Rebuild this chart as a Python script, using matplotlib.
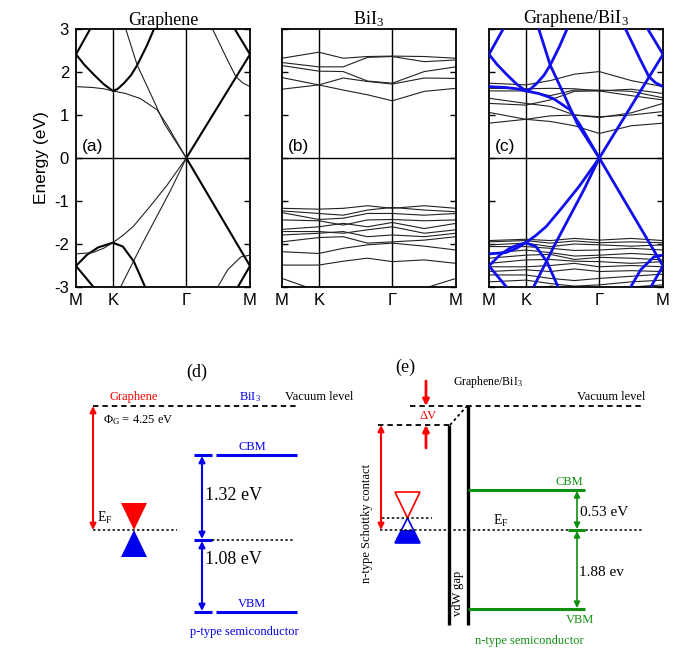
import matplotlib
matplotlib.use('Agg')
import matplotlib.pyplot as plt
from matplotlib.patches import Polygon

plt.rcParams['mathtext.fontset'] = 'custom'
plt.rcParams['mathtext.rm'] = 'Liberation Serif'
plt.rcParams['mathtext.it'] = 'Liberation Serif:italic'
plt.rcParams['mathtext.bf'] = 'Liberation Serif:bold'
plt.rcParams['axes.unicode_minus'] = False

SANS = 'Liberation Sans'
SERIF = 'Liberation Serif'

# k path M-K-Γ-M (hexagonal BZ lengths)
k_ticks = [0.0, 0.667, 2.0, 3.155]
k_labels = ['M', 'K', 'Γ', 'M']
k_grid = [0.0, 0.667, 1.11, 1.55, 2.0, 2.58, 3.155]
e_ticks = [-3, -2, -1, 0, 1, 2, 3]

titles = ['Graphene', r'BiI$_3$', r'Graphene/BiI$_3$']
panel_tags = ['(a)', '(b)', '(c)']

# graphene bands: (k, E) pairs
graphene_thick = [
    ([0.0, 0.15, 0.33, 0.5, 0.667, 0.75, 0.87, 1.0, 1.11, 1.28, 1.445, 1.5],
     [2.41, 2.17, 1.93, 1.72, 1.56, 1.6, 1.74, 1.93, 2.16, 2.6, 3.09, 3.25]),
    ([0.0, 0.296, 0.35], [2.41, 3.09, 3.2]),
    ([2.0, 3.155], [0.0, 2.41]),
    ([2.80, 2.836, 3.155], [3.15, 3.09, 2.41]),
    ([0.0, 0.2, 0.4, 0.667, 0.85, 1.05, 1.26, 1.3],
     [-2.51, -2.25, -2.08, -1.97, -2.06, -2.41, -3.02, -3.1]),
    ([0.0, 0.33, 0.38], [-2.51, -3.02, -3.1]),
    ([2.0, 3.155], [0.0, -2.51]),
    ([2.88, 2.925, 3.155], [-3.1, -3.02, -2.51]),
]
graphene_thin = [
    ([0.0, 0.3, 0.5, 0.667, 0.9, 1.17, 1.47, 1.65, 2.0],
     [1.66, 1.64, 1.61, 1.56, 1.5, 1.38, 1.12, 0.77, 0.0]),
    ([0.85, 0.88, 1.11, 1.35, 1.6, 2.0], [3.2, 3.09, 2.16, 1.5, 0.8, 0.0]),
    ([2.40, 2.44, 2.6, 2.75, 2.9, 3.02, 3.155],
     [3.2, 3.09, 2.67, 2.27, 1.89, 1.75, 1.66]),
    ([0.0, 0.3, 0.5, 0.667, 0.85, 1.04, 1.34, 1.64, 2.0],
     [-2.23, -2.2, -2.1, -1.97, -1.8, -1.59, -1.13, -0.65, 0.0]),
    ([0.76, 0.8, 1.2, 1.72, 2.0], [-3.1, -3.02, -2.0, -0.74, 0.0]),
    ([2.53, 2.56, 2.75, 2.99, 3.155], [-3.1, -3.02, -2.6, -2.3, -2.26]),
]

# BiI3 bands, panel (b), energies at k_grid
bii3_cond = [
    [2.32, 2.46, 2.32, 2.36, 2.37, 2.36, 2.32],
    [2.22, 2.12, 2.12, 2.34, 2.36, 2.24, 2.28],
    [2.15, 2.02, 2.01, 1.79, 1.74, 2.01, 2.12],
    [1.87, 1.70, 1.86, 1.78, 1.72, 1.86, 1.85],
    [1.60, 1.70, 1.58, 1.47, 1.33, 1.55, 1.62],
]
bii3_val = [
    [-1.17, -1.19, -1.17, -1.11, -1.17, -1.11, -1.17],
    [-1.23, -1.29, -1.33, -1.21, -1.15, -1.21, -1.25],
    [-1.27, -1.43, -1.40, -1.29, -1.29, -1.33, -1.29],
    [-1.44, -1.46, -1.56, -1.44, -1.43, -1.46, -1.44],
    [-1.66, -1.60, -1.52, -1.60, -1.50, -1.64, -1.52],
    [-1.71, -1.71, -1.75, -1.67, -1.60, -1.75, -1.67],
    [-1.79, -1.75, -1.71, -1.83, -1.79, -1.83, -1.75],
    [-1.95, -1.85, -1.83, -1.98, -1.95, -1.91, -1.83],
    [-2.18, -2.22, -2.10, -2.02, -1.98, -2.05, -2.14],
    [-2.49, -2.49, -2.40, -2.33, -2.41, -2.37, -2.45],
    [-2.80, -3.10, -3.50, -3.60, -3.60, -3.03, -2.80],
]

# heterostructure BiI3-derived bands, panel (c)
het_cond = [
    [1.06, 0.90, 0.85, 0.75, 0.57, 0.75, 0.81],
    [0.81, 0.90, 0.98, 1.00, 0.96, 1.00, 1.08],
    [1.39, 1.27, 1.20, 1.00, 0.94, 1.05, 1.27],
    [1.27, 1.23, 1.35, 1.55, 1.56, 1.45, 1.35],
    [1.56, 1.56, 1.45, 1.58, 1.58, 1.55, 1.40],
    [1.62, 1.61, 1.62, 1.61, 1.56, 1.60, 1.50],
    [1.74, 1.70, 1.80, 1.95, 2.01, 1.80, 1.66],
]
het_val = [
    [-1.92, -1.89, -1.92, -1.87, -1.91, -1.87, -1.92],
    [-1.95, -1.92, -1.98, -1.93, -1.97, -1.95, -1.97],
    [-2.02, -1.98, -2.06, -2.00, -2.02, -2.05, -2.02],
    [-2.06, -2.06, -2.10, -2.15, -2.14, -2.10, -2.14],
    [-2.22, -2.14, -2.20, -2.28, -2.26, -2.22, -2.26],
    [-2.33, -2.26, -2.24, -2.36, -2.31, -2.33, -2.37],
    [-2.45, -2.37, -2.36, -2.40, -2.41, -2.45, -2.41],
    [-2.53, -2.53, -2.50, -2.45, -2.53, -2.50, -2.53],
    [-2.64, -2.60, -2.64, -2.58, -2.64, -2.62, -2.64],
    [-2.72, -2.72, -2.80, -2.85, -2.80, -2.75, -2.70],
    [-2.88, -2.84, -2.92, -2.98, -2.95, -2.88, -2.84],
    [-3.00, -3.10, -2.98, -3.02, -3.05, -3.00, -2.95],
]

W, H = 680, 648
fig = plt.figure(figsize=(W / 100, H / 100), dpi=100)

panel_x = [76, 282, 489]
axes = []
for i, x0 in enumerate(panel_x):
    ax = fig.add_axes([x0 / W, 1 - 287 / H, 174 / W, 258 / H])
    ax.set_xlim(0, 3.155)
    ax.set_ylim(-3, 3)
    ax.set_yticks(e_ticks)
    ax.set_xticks(k_ticks)
    ax.set_xticklabels(k_labels, fontfamily=SANS, fontsize=12)
    ax.tick_params(axis='y', direction='in', length=4, width=1, left=True, right=True,
                   labelleft=(i == 0), labelsize=12, pad=5)
    ax.tick_params(axis='x', length=0, pad=4)
    for lab in ax.get_yticklabels():
        lab.set_fontfamily(SANS)
    for s in ax.spines.values():
        s.set_linewidth(1.3)
    for kk in k_ticks[1:3]:
        ax.axvline(kk, color='black', lw=1.0, zorder=1)
    ax.axhline(0, color='black', lw=1.0, zorder=1)
    ax.set_title(titles[i], fontfamily=SERIF, fontsize=13, pad=3)
    ax.text(0.1, 0.27, panel_tags[i], fontfamily=SANS, fontsize=12.5, va='center')
    axes.append(ax)

axes[0].set_ylabel('Energy (eV)', fontfamily=SANS, fontsize=12.5, labelpad=4)

# (a) graphene
for k, e in graphene_thick:
    axes[0].plot(k, e, color='black', lw=1.5)
for k, e in graphene_thin:
    axes[0].plot(k, e, color='#222222', lw=0.8)

# (b) BiI3
for e in bii3_cond + bii3_val:
    axes[1].plot(k_grid, e, color='#222222', lw=0.8)

# (c) heterostructure
for e in het_cond + het_val:
    axes[2].plot(k_grid, e, color='#222222', lw=0.8)
for k, e in graphene_thick + graphene_thin:
    axes[2].plot(k, e, color='#1010ee', lw=2.0, zorder=3)

# ---- band alignment sketches (d) and (e), drawn in canvas pixels ----
ov = fig.add_axes([0, 0, 1, 1])
ov.set_xlim(0, W)
ov.set_ylim(H, 0)
ov.axis('off')

red = '#ff0000'
blue = '#0000ee'
green = '#109010'
dash = (0, (3, 2.2))
dot = (0, (1.6, 1.6))


def arrow(x, y0, y1, color, both=True, lw=1.5):
    style = '<|-|>' if both else '-|>'
    ov.annotate('', xy=(x, y1), xytext=(x, y0),
                arrowprops=dict(arrowstyle=style, color=color, lw=lw,
                                mutation_scale=9, shrinkA=0, shrinkB=0))


def txt(x, y, s, color='black', size=9, ha='left', **kw):
    ov.text(x, y, s, color=color, fontsize=size, ha=ha, va='center',
            fontfamily=SERIF, **kw)


# (d) isolated graphene and BiI3
txt(197, 372, '(d)', size=13, ha='center')
txt(134, 397, 'Graphene', red, ha='center')
txt(250, 397, r'BiI$_3$', blue, ha='center')
txt(285, 397, 'Vacuum level')
ov.plot([93, 298], [406, 406], color='black', lw=1.3, ls=dash)
arrow(93, 406, 530, red)
txt(103, 420, r'$\Phi_{\rm G}$ = 4.25 eV')
txt(97, 518, r'E$_{\rm F}$', size=10)
ov.plot([93, 177], [530, 530], color='black', lw=1.1, ls=dot)
ov.add_patch(Polygon([(121, 503), (147, 503), (134, 530)], closed=True, color=red, lw=0))
ov.add_patch(Polygon([(134, 530), (121, 557), (147, 557)], closed=True, color=blue, lw=0))

for y in (455, 540, 612):
    ov.plot([194, 212], [y, y], color=blue, lw=2.2, solid_capstyle='butt')
for y in (455, 612):
    ov.plot([216, 297], [y, y], color=blue, lw=2.2, solid_capstyle='butt')
ov.plot([212, 295], [540, 540], color='black', lw=1.1, ls=dot)
arrow(202, 456, 539, blue)
arrow(202, 541, 611, blue)
txt(252, 447, 'CBM', blue, ha='center')
txt(252, 604, 'VBM', blue, ha='center')
txt(205, 496, '1.32 eV', size=13)
txt(205, 559, '1.08 eV', size=13)
txt(244, 632, 'p-type semiconductor', blue, ha='center')

# (e) graphene/BiI3 contact
txt(405, 367, '(e)', size=13, ha='center')
txt(488, 382, r'Graphene/BiI$_3$', size=8.5, ha='center')
arrow(426, 381, 406, red, both=False, lw=2)
arrow(426, 448, 425, red, both=False, lw=2)
txt(428, 416, 'ΔV', red, ha='center')
ov.plot([410, 642], [406, 406], color='black', lw=1.3, ls=dash)
txt(577, 397, 'Vacuum level')
ov.plot([378, 450], [425, 425], color='black', lw=1.3, ls=dash)
ov.plot([450, 467], [425, 406], color='black', lw=1.3, ls=dot)
ov.plot([449, 449], [425, 625], color='black', lw=2.4, solid_capstyle='butt')
ov.plot([468, 468], [406, 625], color='black', lw=2.4, solid_capstyle='butt')
txt(458, 593, 'vdW gap', ha='center', rotation=90)
arrow(381, 425, 530, red)
txt(367, 523, 'n-type Schottky contact', ha='center', rotation=90)
ov.add_patch(Polygon([(395, 492), (420, 492), (407.5, 518)], closed=True,
                     facecolor='none', edgecolor=red, lw=1.2))
ov.add_patch(Polygon([(407.5, 518), (395, 543), (420, 543)], closed=True,
                     facecolor='none', edgecolor=blue, lw=1.2))
ov.add_patch(Polygon([(401.5, 530), (413.5, 530), (420, 543), (395, 543)], closed=True,
                     color=blue, lw=0))
ov.plot([382, 432], [518, 518], color='black', lw=1.1, ls=dot)
ov.plot([380, 643], [530, 530], color='black', lw=1.1, ls=dot)
txt(493, 521, r'E$_{\rm F}$', size=10)
for y in (490, 609):
    ov.plot([468, 585], [y, y], color=green, lw=2.2, solid_capstyle='butt')
ov.plot([568, 585], [530, 530], color=green, lw=2.2, solid_capstyle='butt')
arrow(577, 491, 529, green, lw=1.2)
arrow(577, 531, 608, green, lw=1.2)
txt(569, 482, 'CBM', green, ha='center')
txt(580, 620, 'VBM', green, ha='center')
txt(580, 513, '0.53 eV', size=11)
txt(579, 573, '1.88 ev', size=11)
txt(529, 641, 'n-type semiconductor', green, ha='center')

fig.savefig('out.png', dpi=100)
